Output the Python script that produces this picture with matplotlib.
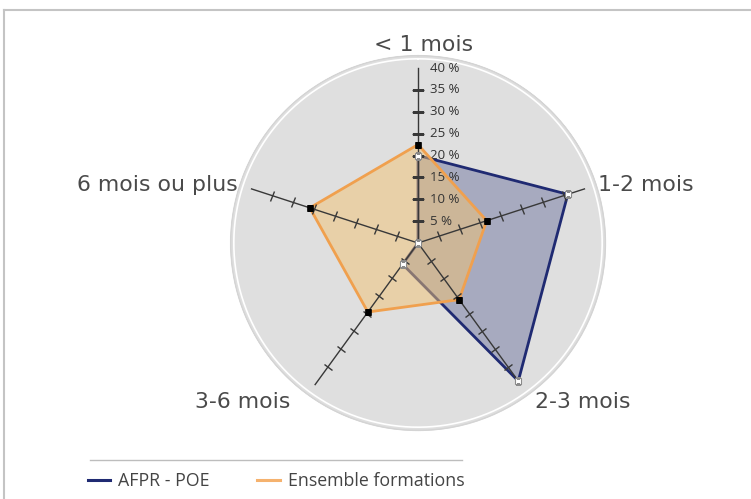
import numpy as np
import matplotlib
matplotlib.use('Agg')
import matplotlib.pyplot as plt
from matplotlib.markers import MarkerStyle
from matplotlib.transforms import Affine2D
from matplotlib.lines import Line2D

categories = ["< 1 mois", "1-2 mois", "2-3 mois", "3-6 mois", "6 mois ou plus"]
afpr_poe = [20, 36, 39, 6, 0]
ensemble = [22.5, 16.5, 16, 19.5, 26]
radial_ticks = [5, 10, 15, 20, 25, 30, 35, 40]
radial_labels = [f"{v} %" for v in radial_ticks]
series_names = ["AFPR - POE", "Ensemble formations"]

plt.rcParams['font.family'] = ['Open Sans', 'DejaVu Sans']

W, H = 751, 499
fig = plt.figure(figsize=(7.51, 4.99), dpi=100)
cx, cy = 418, 243
R40 = 175.0
rmax = 43.0
Rpx = R40 * rmax / 40
ax = fig.add_axes([(cx - Rpx) / W, (H - cy - Rpx) / H, 2 * Rpx / W, 2 * Rpx / H], projection='polar')
ax.set_theta_zero_location('N')
ax.set_theta_direction(-1)
ax.set_ylim(0, rmax)
ax.set_axis_off()

th = np.linspace(0, 2 * np.pi, 500)
ax.fill_between(th, 0, rmax, color='#dfdfdf', zorder=0, lw=0)
ax.plot(th, np.full_like(th, rmax - 0.15), color='#d4d4d4', lw=1.2, zorder=0.5)
ax.plot(th, np.full_like(th, 42.1), color='white', lw=1.2, zorder=0.6)

n = len(categories)
angles = [2 * np.pi * i / n for i in range(n)]

ang_closed = angles + [angles[0]]
afpr_c = afpr_poe + [afpr_poe[0]]
ens_c = ensemble + [ensemble[0]]

navy = '#1f2a72'
orange = '#f0a04e'
ax.fill(ang_closed, afpr_c, color=navy, alpha=0.29, lw=0, zorder=2)
ax.plot(ang_closed, afpr_c, color=navy, lw=2.0, zorder=2.1)
ax.fill(ang_closed, ens_c, color='#f2c273', alpha=0.5, lw=0, zorder=3)
ax.plot(ang_closed, ens_c, color=orange, lw=2.0, zorder=3.1)

# spokes and ticks (above the fills)
for i, a in enumerate(angles):
    ax.plot([a, a], [0, radial_ticks[-1]], color='#383838', lw=1.0, zorder=4)
    screen_deg = 90 - 360 * i / n
    ms = MarkerStyle('_', transform=Affine2D().rotate_deg(screen_deg + 90))
    ax.plot([a] * (len(radial_ticks) - 1), radial_ticks[:-1], ls='none', marker=ms,
            markersize=8 if i == 0 else 7.5, markeredgewidth=1.0, color='#383838', zorder=4)

ax.plot(angles, afpr_poe, ls='none', marker='s', markersize=5, markerfacecolor='white',
        markeredgecolor='#8a8a8a', markeredgewidth=0.8, zorder=5)
ax.plot(angles, ensemble, ls='none', marker='s', markersize=5, markerfacecolor='black',
        markeredgecolor='black', markeredgewidth=0.5, zorder=5)

# radial labels
for v, lab in zip(radial_ticks, radial_labels):
    ax.annotate(lab, xy=(0, v), xytext=(9, 0), textcoords='offset points', ha='left',
                va='center', fontsize=9.5, color='#333333', annotation_clip=False)

# category labels
label_pos = [(424, 45), (646, 185), (583, 402), (243, 402), (157, 185)]
for lab, (px, py) in zip(categories, label_pos):
    fig.text(px / W, 1 - py / H, lab, ha='center', va='center', fontsize=15.8,
             color='#4a4a4a', family=['DejaVu Sans'])

# legend
fig.add_artist(Line2D([90 / W, 462 / W], [1 - 460 / H] * 2, color='#bdbdbd', lw=1.0))
handles = [Line2D([], [], color=navy, lw=2.2), Line2D([], [], color='#f5b26e', lw=2.2)]
fig.legend(handles, series_names, loc='center', bbox_to_anchor=(276 / W, 1 - 481 / H), ncol=2,
           frameon=False, fontsize=12.8, handlelength=1.25, handletextpad=0.45, columnspacing=2.7,
           labelcolor='#444444')

# frame
fig.add_artist(Line2D([4 / W, 1], [1 - 10 / H] * 2, color='#c4c4c4', lw=1.5))
fig.add_artist(Line2D([4 / W, 4 / W], [0, 1 - 10 / H], color='#c4c4c4', lw=1.5))

fig.savefig('out.png', dpi=100)
